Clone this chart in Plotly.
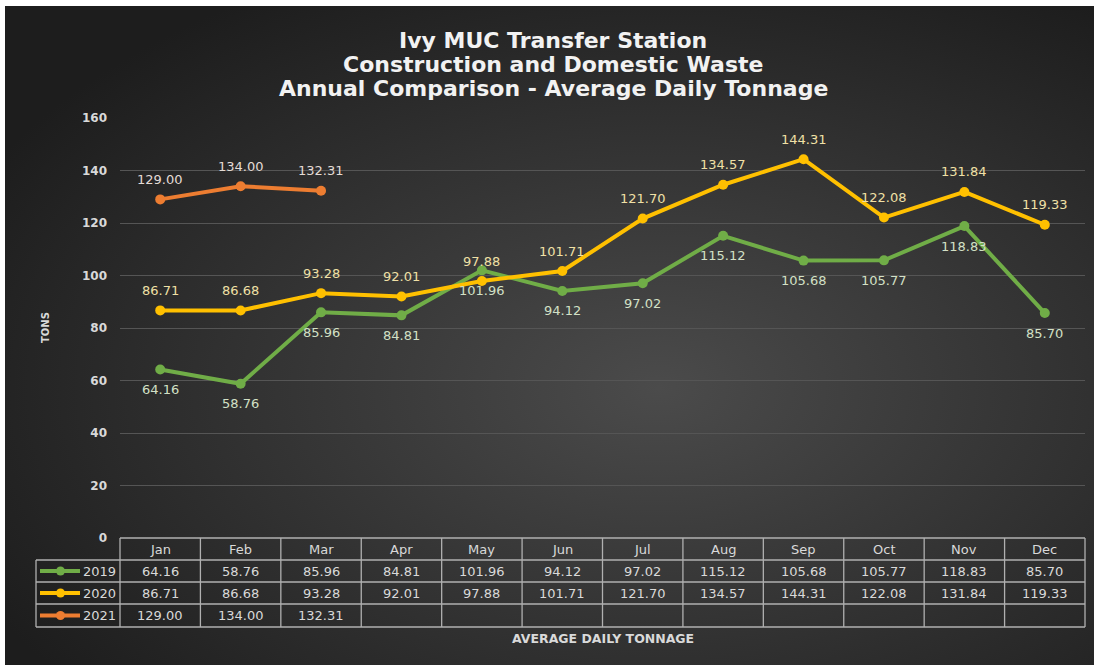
import base64
import plotly.graph_objects as go

months = ["Jan", "Feb", "Mar", "Apr", "May", "Jun", "Jul", "Aug", "Sep", "Oct", "Nov", "Dec"]
years = ["2019", "2020", "2021"]
v2019 = [64.16, 58.76, 85.96, 84.81, 101.96, 94.12, 97.02, 115.12, 105.68, 105.77, 118.83, 85.70]
v2020 = [86.71, 86.68, 93.28, 92.01, 97.88, 101.71, 121.70, 134.57, 144.31, 122.08, 131.84, 119.33]
v2021 = [129.00, 134.00, 132.31]
y_ticks = [0, 20, 40, 60, 80, 100, 120, 140, 160]

title_lines = ["Ivy MUC Transfer Station", "Construction and Domestic Waste",
               "Annual Comparison - Average Daily Tonnage"]

series = [
    (years[0], v2019, "#70AD47", "#d3e0c6", -20),
    (years[1], v2020, "#FFC000", "#f0e0a6", 20),
    (years[2], v2021, "#ED7D31", "#e4dcd6", 20),
]

W, H = 1094, 665
ML, MR, MT, MB = 36, 9, 118, 127
PW, PH = W - ML - MR, H - MT - MB
plot_left_px = 120
dom0 = (plot_left_px - ML) / PW


def px_x(px):
    return (px - ML) / PW


def px_y(py):
    return (H - MB - py) / PH


font_main = "DejaVu Sans"
txt_col = "#d9d9d9"

fig = go.Figure()
for name, vals, col, lcol, shift in series:
    fig.add_trace(go.Scatter(
        x=months[:len(vals)], y=vals, mode="lines+markers", name=name,
        line=dict(color=col, width=4), marker=dict(color=col, size=10),
        showlegend=False, hoverinfo="skip"))

annotations = []
for name, vals, col, lcol, shift in series:
    for m, v in zip(months, vals):
        annotations.append(dict(
            x=m, y=v, xref="x", yref="y", text=f"{v:.2f}", showarrow=False,
            xanchor="center", yanchor="middle",
            yshift=shift, font=dict(family=font_main, size=13, color=lcol)))

# Title
for i, t in enumerate(title_lines):
    annotations.append(dict(
        x=px_x(553), y=px_y(40 + 24 * i), xref="paper", yref="paper",
        text=f"<b>{t}</b>", showarrow=False, xanchor="center", yanchor="middle",
        font=dict(family=font_main, size=22, color="#f2f2f2")))

# Y axis title
annotations.append(dict(
    x=px_x(45), y=px_y(328), xref="paper", yref="paper", text="<b>TONS</b>",
    textangle=-90, showarrow=False, xanchor="center", yanchor="middle",
    font=dict(family=font_main, size=10, color=txt_col)))

# X axis title
annotations.append(dict(
    x=px_x(603), y=px_y(638), xref="paper", yref="paper",
    text="<b>AVERAGE DAILY TONNAGE</b>", showarrow=False,
    xanchor="center", yanchor="middle",
    font=dict(family=font_main, size=12.5, color=txt_col)))

# Data table
row_lines_px = [538, 560, 582, 604, 627]
row_centers = [(row_lines_px[i] + row_lines_px[i + 1]) / 2 for i in range(4)]
shapes = []
line_style = dict(color="#b0b0b0", width=1.3)


def col_edge(k):
    return dom0 + (1 - dom0) * k / 12


# horizontal lines
shapes.append(dict(type="line", xref="paper", yref="paper", x0=col_edge(0), x1=1,
                   y0=px_y(row_lines_px[0]), y1=px_y(row_lines_px[0]), line=line_style))
for py in row_lines_px[1:]:
    shapes.append(dict(type="line", xref="paper", yref="paper", x0=px_x(36), x1=1,
                       y0=px_y(py), y1=px_y(py), line=line_style))
# vertical lines
for k in range(13):
    shapes.append(dict(type="line", xref="paper", yref="paper", x0=col_edge(k), x1=col_edge(k),
                       y0=px_y(row_lines_px[0]), y1=px_y(row_lines_px[-1]), line=line_style))
shapes.append(dict(type="line", xref="paper", yref="paper", x0=px_x(36), x1=px_x(36),
                   y0=px_y(row_lines_px[1]), y1=px_y(row_lines_px[-1]), line=line_style))

# header
for m in months:
    annotations.append(dict(x=m, xref="x", y=px_y(row_centers[0]), yref="paper", text=m,
                            xanchor="center", yanchor="middle", showarrow=False,
                            font=dict(family=font_main, size=13, color=txt_col)))
# rows
for r, (name, vals, col, lcol, shift) in enumerate(series):
    yc = px_y(row_centers[r + 1])
    for m, v in zip(months, vals):
        annotations.append(dict(x=m, xref="x", y=yc, yref="paper", text=f"{v:.2f}",
                                xanchor="center", yanchor="middle", showarrow=False,
                                font=dict(family=font_main, size=13, color=txt_col)))
    annotations.append(dict(x=px_x(118), xref="paper", y=yc, yref="paper", text=name,
                            xanchor="right", yanchor="middle", showarrow=False,
                            font=dict(family=font_main, size=13, color=txt_col)))
    shapes.append(dict(type="line", xref="paper", yref="paper", x0=px_x(40), x1=px_x(80),
                       y0=yc, y1=yc, line=dict(color=col, width=4)))
    shapes.append(dict(type="circle", xref="paper", yref="paper",
                       x0=px_x(56), x1=px_x(65), y0=px_y(row_centers[r + 1] + 4.5),
                       y1=px_y(row_centers[r + 1] - 4.5), fillcolor=col, line=dict(width=0)))

# Background gradient (Excel-like radial)
bw, bh = W - 5, H - 6
svg = (f'<svg xmlns="http://www.w3.org/2000/svg" width="{bw}" height="{bh}">'
       '<defs><radialGradient id="g" cx="0.6" cy="0.58" r="0.7">'
       '<stop offset="0" stop-color="#4b4b4b"/><stop offset="1" stop-color="#1d1d1d"/>'
       '</radialGradient></defs>'
       f'<rect width="{bw}" height="{bh}" fill="url(#g)"/></svg>')
bg_src = "data:image/svg+xml;base64," + base64.b64encode(svg.encode()).decode()

fig.update_layout(
    width=W, height=H,
    margin=dict(l=ML, r=MR, t=MT, b=MB),
    paper_bgcolor="white", plot_bgcolor="rgba(0,0,0,0)",
    images=[dict(source=bg_src, xref="paper", yref="paper", x=px_x(5), y=px_y(6),
                 sizex=bw / PW, sizey=bh / PH, xanchor="left", yanchor="top",
                 sizing="stretch", layer="below")],
    xaxis=dict(domain=[dom0, 1], range=[-0.5, 11.5], showticklabels=False, showgrid=False,
               zeroline=False, showline=False, categoryorder="array", categoryarray=months),
    yaxis=dict(range=[0, 160], tickvals=y_ticks, ticktext=[f"<b>{t}</b>" for t in y_ticks],
               showgrid=True, gridcolor="#555555", gridwidth=1, zeroline=False,
               showline=False, ticklabelstandoff=12,
               tickfont=dict(family=font_main, size=12, color=txt_col)),
    annotations=annotations, shapes=shapes,
)

fig.write_html("out.html", config={"displayModeBar": False},
               post_script="document.body.style.margin='0';")
